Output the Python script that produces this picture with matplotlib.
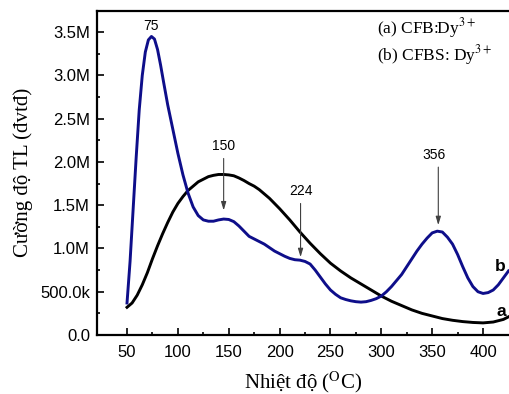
import matplotlib
matplotlib.use('Agg')
import matplotlib.pyplot as plt

# TL glow curves, temperature in degC, intensity in counts
temp_a = [50, 55, 60, 65, 70, 75, 80, 85, 90, 95, 100, 105, 110, 115, 120, 125,
          130, 135, 140, 145, 150, 155, 160, 165, 170, 175, 180, 190, 200, 210,
          220, 230, 240, 250, 260, 270, 280, 290, 300, 310, 320, 330, 340, 350,
          360, 370, 380, 390, 400, 410, 420, 425]
tl_a = [0.32, 0.37, 0.46, 0.58, 0.72, 0.88, 1.03, 1.17, 1.30, 1.42, 1.52, 1.60,
        1.67, 1.72, 1.77, 1.80, 1.83, 1.845, 1.855, 1.855, 1.85, 1.84, 1.815,
        1.785, 1.75, 1.72, 1.68, 1.58, 1.46, 1.33, 1.19, 1.06, 0.94, 0.83, 0.74,
        0.66, 0.59, 0.52, 0.45, 0.39, 0.34, 0.29, 0.25, 0.22, 0.19, 0.17, 0.155,
        0.145, 0.14, 0.15, 0.18, 0.21]

temp_b = [50, 53, 56, 59, 62, 65, 68, 71, 74, 77, 80, 83, 86, 90, 95, 100, 105,
          110, 115, 120, 125, 130, 135, 140, 145, 150, 155, 160, 165, 170, 175,
          180, 185, 190, 195, 200, 205, 210, 215, 220, 225, 230, 235, 240, 245,
          250, 255, 260, 265, 270, 275, 280, 285, 290, 295, 300, 305, 310, 315,
          320, 325, 330, 335, 340, 345, 350, 355, 360, 365, 370, 375, 380, 385,
          390, 395, 400, 405, 410, 415, 420, 425]
tl_b = [0.37, 0.85, 1.45, 2.05, 2.6, 3.0, 3.27, 3.41, 3.45, 3.42, 3.3, 3.12,
        2.92, 2.66, 2.38, 2.1, 1.85, 1.64, 1.48, 1.38, 1.33, 1.315, 1.315, 1.33,
        1.34, 1.335, 1.31, 1.26, 1.2, 1.14, 1.11, 1.08, 1.05, 1.01, 0.97, 0.94,
        0.91, 0.885, 0.87, 0.865, 0.85, 0.82, 0.75, 0.67, 0.59, 0.52, 0.47, 0.43,
        0.41, 0.395, 0.385, 0.38, 0.385, 0.40, 0.42, 0.45, 0.5, 0.56, 0.63, 0.70,
        0.79, 0.88, 0.97, 1.05, 1.12, 1.18, 1.2, 1.19, 1.13, 1.05, 0.93, 0.79,
        0.66, 0.56, 0.5, 0.48, 0.49, 0.52, 0.58, 0.66, 0.74]

yticks = [0, 0.5, 1.0, 1.5, 2.0, 2.5, 3.0, 3.5]
ytick_labels = ['0.0', '500.0k', '1.0M', '1.5M', '2.0M', '2.5M', '3.0M', '3.5M']
xticks = [50, 100, 150, 200, 250, 300, 350, 400]

# peak marks: (label, text x, arrow x, text y, arrow tip y)
peaks = [('150', 145, 145, 2.10, 1.44), ('224', 220.6, 220.6, 1.58, 0.90),
         ('356', 351.5, 356, 2.0, 1.27)]

M = 1e6
plt.rcParams['mathtext.fontset'] = 'stix'
plt.rcParams['font.family'] = 'Liberation Sans'

fig = plt.figure(figsize=(5.09, 3.94), dpi=100)
ax = fig.add_axes([97 / 509, 59 / 394, 412 / 509, 324.5 / 394])

ax.plot(temp_a, [v * M for v in tl_a], color='black', lw=2.1)
ax.plot(temp_b, [v * M for v in tl_b], color='#0e0e8a', lw=2.1)

ax.set_xlim(20.5, 425.5)
ax.set_ylim(0, 3.75 * M)
ax.set_xticks(xticks)
ax.set_xticks(range(75, 425, 50), minor=True)
ax.set_yticks([v * M for v in yticks])
ax.set_yticklabels(ytick_labels)
ax.set_yticks([(v + 0.25) * M for v in yticks], minor=True)
ax.tick_params(which='both', direction='in', width=1.2, labelsize=12)
ax.tick_params(which='major', length=5)
ax.tick_params(which='minor', length=2.5)
ax.tick_params(axis='y', pad=5)
ax.tick_params(axis='x', pad=7)
for s in ['left', 'bottom', 'top']:
    ax.spines[s].set_linewidth(1.6)
ax.spines['right'].set_visible(False)

ax.set_xlabel(r'Nhiệt độ ($^{\mathrm{O}}$C)', family='Liberation Serif', fontsize=15)
ax.set_ylabel('Cường độ TL (đvtđ)', family='Liberation Serif', fontsize=15)
ax.xaxis.set_label_coords(0.5, -0.105)
ax.yaxis.set_label_coords(-0.155, 0.5)

ax.text(74, 3.57 * M, '75', ha='center', va='center', fontsize=10)
for lab, xt, xa, ytxt, ytip in peaks:
    ax.text(xt, ytxt * M, lab, ha='center', va='bottom', fontsize=10)
    ax.annotate('', xy=(xa, ytip * M), xytext=(xa, (ytxt - 0.06) * M),
                arrowprops=dict(arrowstyle='-|>,head_length=0.5,head_width=0.15',
                                color='#404040', lw=0.8, shrinkA=0, shrinkB=0))

ax.text(295.5, 3.545 * M, r'(a) CFB:Dy$^{3+}$', family='Liberation Serif',
        fontsize=12.5, va='center')
ax.text(295.5, 3.23 * M, r'(b) CFBS: Dy$^{3+}$', family='Liberation Serif',
        fontsize=12.5, va='center')
ax.text(418, 0.27 * M, 'a', fontsize=12.5, fontweight='bold', ha='center', va='center')
ax.text(416.7, 0.79 * M, 'b', fontsize=12.5, fontweight='bold', ha='center', va='center')

plt.savefig('out.png', dpi=100)
